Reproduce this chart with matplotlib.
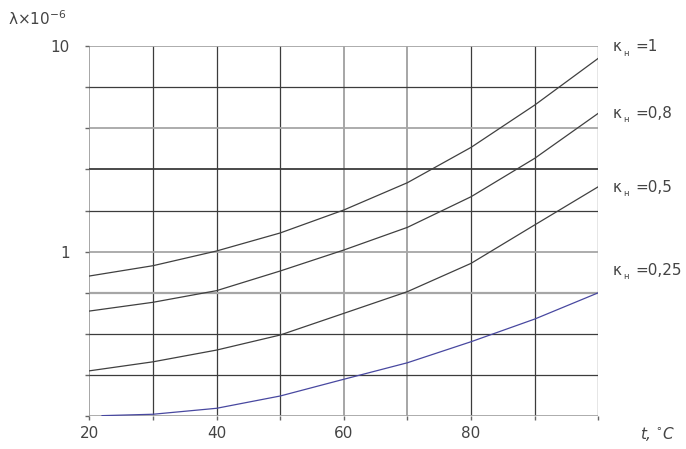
import numpy as np
import matplotlib
matplotlib.use('Agg')
from matplotlib import pyplot as plt

# temperature, deg C
t = [20, 30, 40, 50, 60, 70, 80, 90, 100]
t_025 = [22, 30, 40, 50, 60, 70, 80, 90, 100]
# lambda x 1e-6 for each k_n
lam_1 = [0.762, 0.855, 1.008, 1.233, 1.594, 2.163, 3.21, 5.15, 8.69]
lam_08 = [0.515, 0.568, 0.647, 0.806, 1.019, 1.313, 1.849, 2.84, 4.70]
lam_05 = [0.264, 0.292, 0.333, 0.394, 0.502, 0.640, 0.878, 1.349, 2.068]
lam_025 = [0.160, 0.1625, 0.1737, 0.1993, 0.2403, 0.289, 0.3656, 0.471, 0.632]
labels = ['=1', '=0,8', '=0,5', '=0,25']
label_y = [9.86, 4.71, 2.06, 0.815]

txt = '#444444'
fig = plt.figure(figsize=(6.86, 4.49), dpi=100)
ax = fig.add_axes([0.1302, 0.0724, 0.742, 0.8258])
ax.set_yscale('log')
ax.set_xlim(20, 100)
ax.set_ylim(10 ** -0.8, 10)

# grid: every 10 deg, every 0.2 decade
dark = '#3c3c3c'
grey = '#a6a6a6'
xcol = [grey, dark, dark, dark, grey, grey, dark, dark, dark]
for i, xv in enumerate(range(20, 101, 10)):
    lw = 1.4 if xcol[i] == grey else 0.9
    ax.axvline(xv, color=xcol[i], lw=lw, zorder=1)
ycol = [grey, dark, grey, dark, dark, grey, grey, dark, dark, grey]
ylw = [1.3, 0.9, 1.3, 1.3, 0.9, 1.3, 1.6, 0.9, 0.9, 1.3]
levels = [10 ** (1 - k / 5) for k in range(10)]
for i, yv in enumerate(levels):
    ax.axhline(yv, color=ycol[i], lw=ylw[i], zorder=1)

for s in ax.spines.values():
    s.set_visible(False)

ax.set_xticks([20, 40, 60, 80])
ax.set_xticks(range(20, 101, 10), minor=True)
ax.set_yticks([1, 10])
ax.set_yticklabels(['1', '10'])
ax.set_yticks(levels, minor=True)
ax.yaxis.set_minor_formatter(matplotlib.ticker.NullFormatter())
ax.tick_params(axis='both', which='both', length=3, width=1, color='#666666',
               labelsize=11, labelcolor=txt)
ax.tick_params(axis='y', which='major', length=3, pad=11)
ax.tick_params(axis='x', which='major', pad=4)

ax.plot(t, lam_1, color='#404040', lw=0.9, zorder=3)
ax.plot(t, lam_08, color='#404040', lw=0.9, zorder=3)
ax.plot(t, lam_05, color='#404040', lw=0.9, zorder=3)
ax.plot(t_025, lam_025, color='#4848a0', lw=0.9, zorder=3)

for lab, yv in zip(labels, label_y):
    ax.text(102.3, yv, 'κ', fontsize=11, color=txt, va='center', ha='left', clip_on=False)
    ax.text(103.9, yv / 1.07, 'н', fontsize=6, color=txt, va='center', ha='left', clip_on=False)
    ax.text(105.8, yv, lab, fontsize=11, color=txt, va='center', ha='left', clip_on=False)

fig.text(0.012, 1 - 19 / 449, 'λ×10$^{-6}$', fontsize=11, color=txt, va='center', ha='left')
fig.text(640 / 686, 1 - 434 / 449, 't, $^{\\circ}$C', fontsize=11, color=txt, style='italic',
         va='center', ha='left')

fig.savefig('out.png', dpi=100)
